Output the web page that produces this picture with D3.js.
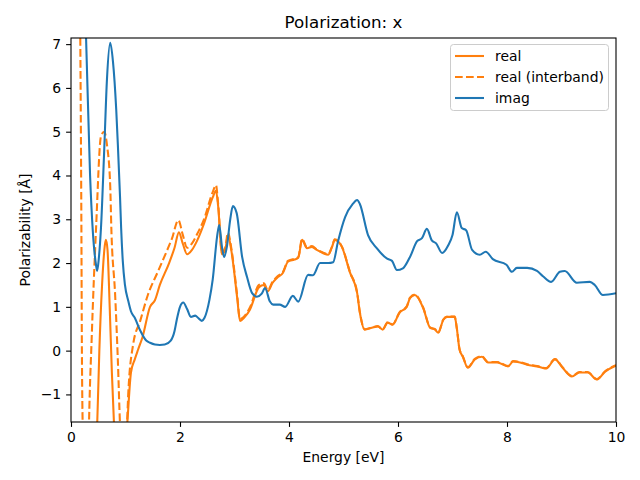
<!DOCTYPE html>
<html><head><meta charset="utf-8">
<script src="https://cdn.jsdelivr.net/npm/d3@7"></script>
<style>body{margin:0;background:#fff}svg{display:block}text{font-family:"DejaVu Sans",sans-serif}</style>
</head><body><svg id="c" width="640" height="480"></svg>
<script>
const title = "Polarization: x";
const xLabel = "Energy [eV]";
const yLabel = "Polarizability [Å]";
const seriesNames = ["real", "real (interband)", "imag"];
const xTicks = [0, 2, 4, 6, 8, 10];
const yTicks = [-1, 0, 1, 2, 3, 4, 5, 6, 7];

const realE = [0.0,0.3,0.44,0.48,0.52,0.57,0.62,0.64,0.67,0.71,0.75,0.79,0.85,0.95,1.03,1.10,1.17,1.23,1.31,1.45,1.54,1.63,1.80,1.90,1.98,2.05,2.13,2.22,2.31,2.44,2.6,2.66,2.70,2.77,2.83,2.88,2.94,3.05,3.10,3.19,3.28,3.45,3.54,3.61,3.70,3.78,3.89,3.98,4.10,4.17,4.24,4.33,4.42,4.51,4.62,4.72,4.79,4.84,4.97,5.12,5.25,5.30,5.39,5.52,5.63,5.72,5.81,5.90,6.03,6.16,6.22,6.31,6.46,6.59,6.68,6.74,6.83,6.90,7.04,7.08,7.13,7.19,7.28,7.41,7.54,7.65,7.82,8.02,8.11,8.24,8.37,8.55,8.72,8.88,9.02,9.19,9.33,9.48,9.65,9.80,10.0];
const realV = [-30,-8,-2.5,-1.7,0.0,1.5,2.4,2.53,2.3,1.0,-0.5,-1.7,-3.0,-2.8,-1.7,-0.5,-0.2,0.02,0.3,1.0,1.15,1.5,2.0,2.35,2.7,2.45,2.2,2.3,2.5,2.9,3.5,3.65,3.3,2.2,2.3,2.64,2.3,1.2,0.68,0.77,0.93,1.45,1.5,1.35,1.55,1.66,1.78,2.03,2.08,2.12,2.53,2.34,2.37,2.3,2.23,2.19,2.37,2.53,2.37,1.78,1.32,0.87,0.48,0.52,0.55,0.48,0.64,0.59,0.87,1.0,1.2,1.27,0.98,0.52,0.48,0.41,0.7,0.77,0.77,0.5,0.02,-0.14,-0.39,-0.2,-0.14,-0.27,-0.27,-0.36,-0.25,-0.27,-0.32,-0.36,-0.41,-0.2,-0.39,-0.59,-0.5,-0.5,-0.66,-0.48,-0.34];

const interE = [0.0,0.10,0.17,0.19,0.20,0.22,0.30,0.33,0.38,0.46,0.55,0.61,0.66,0.72,0.74,0.81,0.86,0.90,0.95,1.0,1.03,1.05,1.14,1.27,1.41,1.60,1.78,1.85,1.97,2.05,2.13,2.22,2.31,2.44,2.6,2.66,2.70,2.77,2.83,2.88,2.94,3.05,3.10,3.19,3.28,3.45,3.54,3.61,3.70,3.78,3.89,3.98,4.10,4.17,4.24,4.33,4.42,4.51,4.62,4.72,4.79,4.84,4.97,5.12,5.25,5.30,5.39,5.52,5.63,5.72,5.81,5.90,6.03,6.16,6.22,6.31,6.46,6.59,6.68,6.74,6.83,6.90,7.04,7.08,7.13,7.19,7.28,7.41,7.54,7.65,7.82,8.02,8.11,8.24,8.37,8.55,8.72,8.88,9.02,9.19,9.33,9.48,9.65,9.80,10.0];
const interV = [30,15,7.2,3,0,-2,-4,-1.7,0.3,2.8,4.9,5.0,4.7,3.75,2.8,1.27,-0.23,-1.7,-2.5,-2.0,-1.6,-1.0,0.14,0.68,1.27,1.82,2.34,2.55,2.98,2.65,2.35,2.45,2.65,3.0,3.62,3.78,3.35,2.25,2.35,2.7,2.35,1.25,0.72,0.8,0.98,1.5,1.54,1.38,1.58,1.69,1.8,2.05,2.1,2.14,2.55,2.36,2.39,2.31,2.24,2.2,2.38,2.54,2.38,1.79,1.33,0.88,0.49,0.53,0.56,0.49,0.65,0.6,0.88,1.01,1.21,1.28,0.99,0.53,0.49,0.42,0.71,0.78,0.78,0.51,0.03,-0.13,-0.38,-0.19,-0.13,-0.26,-0.26,-0.35,-0.24,-0.26,-0.31,-0.35,-0.4,-0.19,-0.38,-0.58,-0.49,-0.49,-0.65,-0.47,-0.33];

const imagE = [0.0,0.16,0.275,0.35,0.40,0.46,0.48,0.51,0.55,0.61,0.66,0.72,0.77,0.83,0.86,0.90,0.92,0.95,0.99,1.05,1.10,1.17,1.27,1.38,1.45,1.54,1.63,1.72,1.83,1.90,1.94,2.0,2.06,2.13,2.20,2.28,2.33,2.40,2.45,2.54,2.60,2.68,2.72,2.77,2.81,2.86,2.92,2.97,3.04,3.14,3.23,3.32,3.41,3.50,3.56,3.65,3.71,3.83,3.93,4.07,4.17,4.35,4.44,4.57,4.72,4.81,4.90,5.03,5.17,5.25,5.30,5.45,5.61,5.80,5.89,5.98,6.09,6.22,6.35,6.44,6.53,6.62,6.70,6.81,6.92,7.0,7.08,7.17,7.25,7.36,7.50,7.61,7.74,7.99,8.09,8.18,8.37,8.55,8.66,8.81,8.97,9.06,9.28,9.52,9.61,9.76,10.0];
const imagV = [12,10,7.2,4.0,2.73,1.95,1.82,2.1,2.8,4.6,6.2,7.03,6.6,5.5,4.7,3.5,2.8,2.05,1.5,1.14,0.9,0.75,0.46,0.23,0.18,0.14,0.13,0.14,0.23,0.45,0.7,1.0,1.1,0.95,0.77,0.8,0.75,0.68,0.75,1.16,1.62,2.6,2.87,2.37,2.14,2.37,2.98,3.3,3.14,2.14,1.68,1.32,1.23,1.3,1.43,1.12,1.05,1.05,1.0,1.25,1.12,1.73,1.72,2.0,2.0,2.02,2.5,3.05,3.35,3.44,3.35,2.64,2.34,2.1,2.05,1.84,1.88,2.14,2.5,2.57,2.78,2.52,2.45,2.23,2.4,2.64,3.16,2.8,2.75,2.3,2.19,2.26,2.09,1.96,1.8,1.89,1.89,1.82,1.7,1.57,1.8,1.82,1.55,1.57,1.5,1.27,1.31];

const svg = d3.select("#c");
const m = {l:71, t:38, r:616, b:422};
const x = d3.scaleLinear().domain([0,10]).range([m.l,m.r]);
const y = d3.scaleLinear().domain([-1.63,7.14]).range([m.b,m.t]);

svg.append("defs").append("clipPath").attr("id","clip")
  .append("rect").attr("x",m.l).attr("y",m.t).attr("width",m.r-m.l).attr("height",m.b-m.t);

const line = d3.line().x(d=>x(d[0])).y(d=>y(d[1])).curve(d3.curveMonotoneX);
const g = svg.append("g").attr("clip-path","url(#clip)");
const series = [
  {name:seriesNames[0], e:realE, v:realV, color:"#ff7f0e", dash:null},
  {name:seriesNames[1], e:interE, v:interV, color:"#ff7f0e", dash:"7.7,3.3"},
  {name:seriesNames[2], e:imagE, v:imagV, color:"#1f77b4", dash:null}
];
series.forEach(s=>{
  g.append("path").datum(s.e.map((e,i)=>[e,s.v[i]]))
   .attr("d",line).attr("fill","none").attr("stroke",s.color)
   .attr("stroke-width",2.08).attr("stroke-dasharray",s.dash)
   .attr("stroke-linejoin","round");
});

const xa = svg.append("g").attr("transform",`translate(0,${m.b})`)
  .call(d3.axisBottom(x).tickValues(xTicks).tickFormat(d3.format("d")).tickSize(4.9).tickPadding(4.9));
const ya = svg.append("g").attr("transform",`translate(${m.l},0)`)
  .call(d3.axisLeft(y).tickValues(yTicks).tickFormat(d=>d<0?"\u2212"+Math.abs(d):d).tickSize(4.9).tickPadding(4.9));
[xa,ya].forEach(a=>{
  a.selectAll("path").remove();
  a.selectAll("line").attr("stroke","#000").attr("stroke-width",1.1);
  a.selectAll("text").attr("font-size",13.9).attr("fill","#000").attr("font-family","DejaVu Sans");
});

svg.append("rect").attr("x",m.l).attr("y",m.t).attr("width",m.r-m.l).attr("height",m.b-m.t)
  .attr("fill","none").attr("stroke","#000").attr("stroke-width",1.1);

svg.append("text").attr("x",(m.l+m.r)/2).attr("y",28).attr("text-anchor","middle")
  .attr("font-size",16.7).text(title);
svg.append("text").attr("x",(m.l+m.r)/2).attr("y",462).attr("text-anchor","middle")
  .attr("font-size",13.9).text(xLabel);
svg.append("text").attr("transform",`translate(30,${(m.t+m.b)/2}) rotate(-90)`).attr("text-anchor","middle")
  .attr("font-size",13.9).text(yLabel);

const lg = svg.append("g");
lg.append("rect").attr("x",450.5).attr("y",44.5).attr("width",158).attr("height",66).attr("rx",3)
  .attr("fill","#fff").attr("fill-opacity",0.8).attr("stroke","#ccc").attr("stroke-width",1);
series.forEach((s,i)=>{
  const yy = 56 + i*21;
  lg.append("line").attr("x1",455).attr("x2",484).attr("y1",yy).attr("y2",yy)
    .attr("stroke",s.color).attr("stroke-width",2.08).attr("stroke-dasharray",s.dash);
  lg.append("text").attr("x",495).attr("y",yy+5).attr("font-size",13.9).text(s.name);
});
</script></body></html>
